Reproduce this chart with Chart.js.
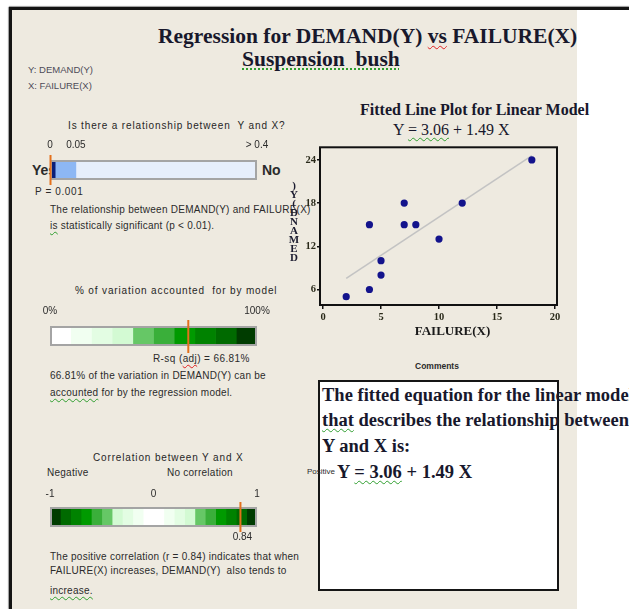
<!DOCTYPE html>
<html>
<head>
<meta charset="utf-8">
<script src="https://cdn.jsdelivr.net/npm/chart.js@4.4.1/dist/chart.umd.min.js"></script>
<style>
  html, body { margin:0; padding:0; background:#fff; width:629px; height:609px; overflow:hidden; position:relative; }
  #panel { position:absolute; left:12px; top:10px; width:565px; height:599px; background:#eeeae0; }
  #topRule { position:absolute; left:9px; top:7px; width:620px; height:3px; background:#141414; box-shadow:0 -1px 1px #999; }
  #leftRule { position:absolute; left:9px; top:7px; width:3px; height:602px; background:#141414; box-shadow:-1px 0 1px #999; }
  .t { position:absolute; white-space:nowrap; line-height:1; }
  .sans { font-family:"Liberation Sans", Arial, sans-serif; color:#2b2b2b; }
  .body { letter-spacing:0.25px; }
  .head { letter-spacing:0.85px; color:#262626; }
  .serif { font-family:"Liberation Serif", "Times New Roman", serif; color:#18182c; }
  canvas { position:absolute; }
  #commentBox { position:absolute; left:318px; top:380px; width:237px; height:207px; border:2px solid #151515; background:#fff; }
  .wg { text-decoration:underline wavy #2f9e2f; text-underline-offset:2px; text-decoration-thickness:1px; }
  .wr { text-decoration:underline wavy #e02020; text-underline-offset:2px; text-decoration-thickness:1px; }
  .dg { text-decoration:underline dotted #2f9e2f; text-underline-offset:2px; text-decoration-thickness:1.5px; }
  #yTitle { position:absolute; left:286px; top:181px; width:16px; text-align:center;
            font-family:"Liberation Serif", "Times New Roman", serif; font-weight:bold; font-size:11px;
            line-height:9px; color:#1c1c30; }
</style>
</head>
<body>
<div id="panel"></div>
<div id="topRule"></div>
<div id="leftRule"></div>
<div id="texts"></div>
<canvas id="pGauge" width="270" height="50" style="left:20px;top:140px"></canvas>
<canvas id="rsqGauge" width="270" height="50" style="left:20px;top:306px"></canvas>
<canvas id="corrGauge" width="270" height="62" style="left:20px;top:487px"></canvas>
<div id="commentBox"></div>
<canvas id="fitPlot" width="290" height="205" style="left:280px;top:140px"></canvas>
<div id="yTitle"></div>
<div id="overTexts"></div>
<script>
// ---- data: DEMAND(Y) against FAILURE(X) for the suspension bush ----
const failure = [2, 4, 4, 5, 5, 7, 7, 8, 10, 12, 18];
const demand  = [5, 6, 15, 8, 10, 15, 18, 15, 13, 18, 24];
// fitted line end points over the range of FAILURE(X)
const fitFailure = [2, 18];
const fitDemand  = [7.55, 24.6];
const xTicks = [0, 5, 10, 15, 20];
const yTicks = [6, 12, 18, 24];

// p-value gauge
const pEdges = [0, 0.01, 0.05, 0.4];
const pTicks = [0, 0.05, 0.4];
const pTickLabels = ['0', '0.05', '> 0.4'];
const pValue = 0.001;

// R-sq (adj) gauge
const rsqEdges = [0, 10, 20, 30, 40, 50, 60, 70, 80, 90, 100];
const rsqTicks = [0, 100];
const rsqTickLabels = ['0%', '100%'];
const rsqAdj = 66.81;

// correlation gauge
const corrEdges = [-1, -0.9, -0.8, -0.7, -0.6, -0.5, -0.4, -0.3, -0.2, -0.1, 0,
                   0.1, 0.2, 0.3, 0.4, 0.5, 0.6, 0.7, 0.8, 0.9, 1];
const corrTicks = [-1, 0, 1];
const corrTickLabels = ['-1', '0', '1'];
const corrR = 0.84;

// ---- styles ----
const SERIF = '"Liberation Serif", "Times New Roman", serif';
const SANS = '"Liberation Sans", Arial, sans-serif';
const pColors = ['#0b1f78', '#8db7f4', '#e6eefb'];
const rsqColors = ['#ffffff', '#f1fff1', '#e3fde3', '#d3fad3', '#66c766', '#3aaf3a',
                   '#009a00', '#008200', '#006a00', '#003c00'];
const corrColors = ['#003c00', '#006a00', '#008200', '#009a00', '#3aaf3a', '#66c766',
                    '#d3fad3', '#e3fde3', '#f1fff1', '#ffffff', '#ffffff', '#f1fff1',
                    '#e3fde3', '#d3fad3', '#66c766', '#3aaf3a', '#009a00', '#008200',
                    '#006a00', '#003c00'];
const MARKER = '#e4711c';

// ---- text helper ----
function txt(parent, html, x, yc, size, cls, extra) {
  const d = document.createElement('div');
  d.className = 't ' + cls;
  d.style.left = x + 'px';
  d.style.top = (yc - size * 0.5) + 'px';
  d.style.fontSize = size + 'px';
  if (extra) Object.assign(d.style, extra);
  d.innerHTML = html;
  document.getElementById(parent).appendChild(d);
  return d;
}

const S = 10;
txt('texts', 'Regression for DEMAND(Y) <span class="wr">vs</span> FAILURE(X)', 158, 37, 21.5, 'serif', {fontWeight:'bold'});
txt('texts', '<span class="dg">Suspension&nbsp; bush</span>', 242, 60, 21.5, 'serif', {fontWeight:'bold'});
txt('texts', 'Y: DEMAND(Y)', 28, 70, 9.5, 'sans', {color:'#4d4a58'});
txt('texts', 'X: FAILURE(X)', 28, 86, 9.5, 'sans', {color:'#4d4a58'});

txt('texts', 'Is there a relationship between&nbsp; Y and X?', 68, 126, S, 'sans head');
txt('texts', 'Yes', 32, 170, 14, 'sans', {fontWeight:'bold'});
txt('texts', 'No', 262, 170, 14, 'sans', {fontWeight:'bold'});
txt('texts', 'P = ' + pValue.toFixed(3), 35, 192, S, 'sans', {letterSpacing:'0.6px'});
txt('texts', 'The relationship between DEMAND(Y) and FAILURE(X)', 50, 210, S, 'sans body');
txt('texts', '<span class="wg">is</span> statistically significant (p &lt; 0.01).', 50, 226, S, 'sans body');

txt('texts', '% of variation accounted&nbsp; for by model', 75, 291, S, 'sans head');
txt('texts', 'R-sq (<span class="wr">adj</span>) = ' + rsqAdj.toFixed(2) + '%', 153, 359, S, 'sans', {letterSpacing:'0.4px'});
txt('texts', rsqAdj.toFixed(2) + '% of the variation in DEMAND(Y) can be', 50, 376, S, 'sans body');
txt('texts', '<span class="wg">accounted</span> for by the regression model.', 50, 393, S, 'sans body');

txt('texts', 'Correlation between Y and X', 93, 458, S, 'sans head');
txt('texts', 'Negative', 47, 473, S, 'sans body');
txt('texts', 'No correlation', 167, 473, S, 'sans body');
txt('texts', 'The positive correlation (r = ' + corrR.toFixed(2) + ') indicates that when', 50, 557, S, 'sans body');
txt('texts', 'FAILURE(X) increases, DEMAND(Y)&nbsp; also tends to', 50, 571, S, 'sans body');
txt('texts', '<span class="wg">increase.</span>', 50, 591, S, 'sans body');

txt('texts', 'Fitted Line Plot for Linear Model', 360, 110, 16, 'serif', {fontWeight:'bold'});
txt('texts', 'Y <span class="wg">= 3.06</span> + 1.49 X', 393, 130, 16, 'serif');
txt('texts', 'Comments', 415, 366, 8.5, 'sans', {fontWeight:'bold'});

// comment box contents sit above the box
txt('overTexts', 'Positive', 307, 472, 8, 'sans');
txt('overTexts', 'The fitted equation for the linear model', 322, 395, 18.5, 'serif', {fontWeight:'bold'});
txt('overTexts', '<span class="wg">that</span> describes the relationship between', 322, 420, 18.5, 'serif', {fontWeight:'bold'});
txt('overTexts', 'Y and X is:', 322, 446, 18.5, 'serif', {fontWeight:'bold'});
txt('overTexts', 'Y <span class="wg">= 3.06</span> + 1.49 X', 337, 472, 18.5, 'serif', {fontWeight:'bold'});

// stacked vertical axis title of the fitted line plot
document.getElementById('yTitle').innerHTML = 'DEMAND(Y)'.split('').reverse().join('<br>');

// ---- gauges ----
const gaugeDecor = {
  id: 'gaugeDecor',
  afterDatasetsDraw(chart, args, o) {
    const {ctx, chartArea: a, scales: {x}} = chart;
    ctx.save();
    ctx.strokeStyle = '#a4a4a4';
    ctx.lineWidth = 2;
    ctx.strokeRect(a.left + 1, a.top + 1, a.right - a.left - 2, a.bottom - a.top - 2);
    const px = x.getPixelForValue(o.marker);
    ctx.strokeStyle = MARKER;
    ctx.lineWidth = 2;
    ctx.beginPath();
    ctx.moveTo(px, a.top - o.up);
    ctx.lineTo(px, a.bottom + o.down);
    ctx.stroke();
    if (o.label) {
      ctx.fillStyle = '#2b2b2b';
      ctx.font = '10px ' + SANS;
      ctx.textAlign = 'center';
      ctx.textBaseline = 'middle';
      ctx.fillText(o.label, px + 2, a.bottom + 10);
    }
    ctx.restore();
  }
};

function makeGauge(id, edges, colors, ticks, tickLabels, marker, up, down, label, tickPad, padBottom) {
  const datasets = colors.map((c, i) => ({
    data: [[edges[i], edges[i + 1]]],
    backgroundColor: c,
    borderWidth: 0,
    grouped: false,
    barPercentage: 1,
    categoryPercentage: 1
  }));
  return new Chart(document.getElementById(id), {
    type: 'bar',
    data: { labels: [''], datasets },
    options: {
      indexAxis: 'y',
      responsive: false,
      animation: false,
      layout: { padding: { left: 30, right: 33, top: 0, bottom: padBottom } },
      plugins: {
        legend: { display: false },
        tooltip: { enabled: false },
        gaugeDecor: { marker, up, down, label }
      },
      scales: {
        x: {
          type: 'linear',
          position: 'top',
          min: edges[0],
          max: edges[edges.length - 1],
          afterBuildTicks: s => { s.ticks = ticks.map(v => ({ value: v })); },
          afterFit: s => { s.height = 20; },
          grid: { display: false, drawTicks: false },
          border: { display: false },
          ticks: {
            padding: tickPad,
            maxRotation: 0,
            autoSkip: false,
            color: '#2b2b2b',
            font: { family: SANS, size: 10 },
            callback: (v, i) => tickLabels[i]
          }
        },
        y: { display: false }
      }
    },
    plugins: [gaugeDecor]
  });
}

makeGauge('pGauge', pEdges, pColors, pTicks, pTickLabels, pValue, 5, 5, null, 9, 10);
makeGauge('rsqGauge', rsqEdges, rsqColors, rsqTicks, rsqTickLabels, rsqAdj, 6, 7, null, 8.8, 10);
makeGauge('corrGauge', corrEdges, corrColors, corrTicks, corrTickLabels, corrR, 5, 5, corrR.toFixed(2), 7, 22);

// ---- fitted line plot ----
const plotFrame = {
  id: 'plotFrame',
  afterDatasetsDraw(chart) {
    const {ctx, chartArea: a} = chart;
    ctx.save();
    ctx.strokeStyle = '#111';
    ctx.lineWidth = 2;
    ctx.strokeRect(a.left, a.top, a.right - a.left, a.bottom - a.top);
    // horizontal axis title, set a little right of centre
    ctx.fillStyle = '#1a1a1a';
    ctx.font = 'bold 13px ' + SERIF;
    ctx.textAlign = 'center';
    ctx.textBaseline = 'middle';
    ctx.fillText('FAILURE(X)', (a.left + a.right) / 2 + 14, a.bottom + 27);
    ctx.restore();
  }
};

new Chart(document.getElementById('fitPlot'), {
  type: 'scatter',
  data: {
    datasets: [
      {
        label: 'DEMAND(Y)',
        data: failure.map((x, i) => ({ x, y: demand[i] })),
        pointRadius: 3.6,
        pointBackgroundColor: '#13138c',
        pointBorderColor: '#13138c',
        pointBorderWidth: 0,
        order: 0
      },
      {
        type: 'line',
        label: 'Fit',
        data: fitFailure.map((x, i) => ({ x, y: fitDemand[i] })),
        borderColor: '#c3c3c3',
        borderWidth: 1.6,
        pointRadius: 0,
        showLine: true,
        order: 1
      }
    ]
  },
  options: {
    responsive: false,
    animation: false,
    layout: { padding: { top: 7, right: 13, left: 0, bottom: 0 } },
    plugins: { legend: { display: false }, tooltip: { enabled: false } },
    scales: {
      x: {
        type: 'linear',
        min: -0.26,
        max: 20.17,
        afterBuildTicks: s => { s.ticks = xTicks.map(v => ({ value: v })); },
        afterFit: s => { s.height = 40; },
        grid: { drawOnChartArea: false, drawTicks: true, tickLength: 4, color: '#111', lineWidth: 1.5 },
        border: { display: false },
        ticks: { padding: 2, maxRotation: 0, color: '#2a2a1a', font: { family: SERIF, size: 10.5, weight: 'bold' } }
      },
      y: {
        type: 'linear',
        min: 3.85,
        max: 25.75,
        afterBuildTicks: s => { s.ticks = yTicks.map(v => ({ value: v })); },
        afterFit: s => { s.width = 40; },
        grid: { drawOnChartArea: false, drawTicks: true, tickLength: 3, color: '#111', lineWidth: 1.5 },
        border: { display: false },
        ticks: { padding: 1, color: '#2a2a1a', font: { family: SERIF, size: 10.5, weight: 'bold' } }
      }
    }
  },
  plugins: [plotFrame]
});
</script>
</body>
</html>
